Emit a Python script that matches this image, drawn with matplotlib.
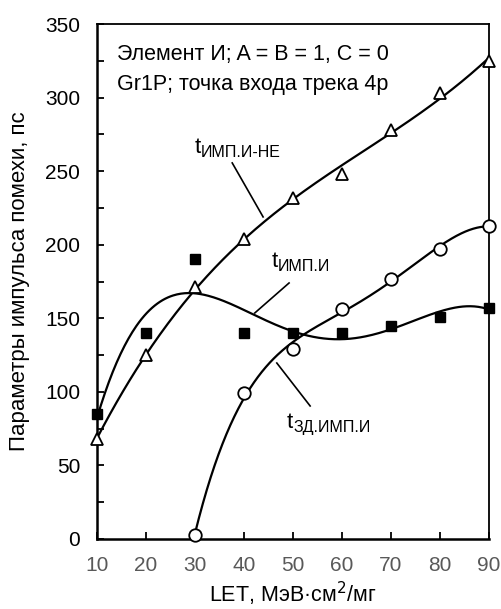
import numpy as np
import matplotlib.pyplot as plt
from matplotlib.ticker import MultipleLocator

plt.rcParams['font.family'] = ['Liberation Sans', 'DejaVu Sans']

# LET values and measured pulse parameters (ps)
let = [10, 20, 30, 40, 50, 60, 70, 80, 90]
t_imp_and_not = [68, 125, 171, 204, 232, 248, 278, 303, 325]
t_imp_and = [85, 140, 190, 140, 140, 140, 145, 151, 157]
let_delay = [30, 40, 50, 60, 70, 80, 90]
t_delay = [3, 99, 129, 156, 177, 197, 213]

fig = plt.figure(figsize=(5.01, 6.09), dpi=100)
ax = fig.add_axes([0.1936, 0.115, 0.7824, 0.8455])


def trend(x, y, deg, n=300):
    # polynomial trendline over the data range
    c = np.polyfit(x, y, deg)
    xs = np.linspace(min(x), max(x), n)
    return xs, np.polyval(c, xs)


xs, ys = trend(let, t_imp_and_not, 3)
ax.plot(xs, ys, color='black', lw=1.6)
xs, ys = trend(let, t_imp_and, 4)
ax.plot(xs, ys, color='black', lw=1.6)
xs, ys = trend(let_delay, t_delay, 4)
ax.plot(xs, ys, color='black', lw=1.6)

ax.plot(let, t_imp_and_not, ls='none', marker='^', ms=8, mfc='white',
        mec='black', mew=1.3, clip_on=False, zorder=3)
ax.plot(let, t_imp_and, ls='none', marker='s', ms=7, mfc='black',
        mec='black', clip_on=False, zorder=3)
ax.plot(let_delay, t_delay, ls='none', marker='o', ms=9, mfc='white',
        mec='black', mew=1.3, clip_on=False, zorder=3)

ax.set_xlim(10, 90)
ax.set_ylim(0, 350)
ax.xaxis.set_major_locator(MultipleLocator(10))
ax.yaxis.set_major_locator(MultipleLocator(50))
ax.yaxis.set_minor_locator(MultipleLocator(25))
ax.tick_params(axis='both', which='both', direction='in', length=5, width=1.3)
ax.tick_params(axis='x', labelsize=15, labelcolor='#595959', pad=12)
ax.tick_params(axis='y', labelsize=15, pad=12)
for side in ['left', 'bottom']:
    ax.spines[side].set_linewidth(1.8)
for side in ['top', 'right']:
    ax.spines[side].set_linewidth(1.3)

ax.set_xlabel('LET, МэВ·см$^2$/мг', fontsize=15.5, labelpad=4)
ax.set_ylabel('Параметры импульса помехи, пс', fontsize=16, labelpad=11)

ax.text(14.0, 325.6, 'Элемент И; A = B = 1, C = 0', fontsize=15.5)
ax.text(14.0, 305.3, 'Gr1P; точка входа трека 4р', fontsize=15.5)

# curve labels with leader lines
labels = [
    (30.0, 262.4, 'ИМП.И-НЕ', (37.6, 255.6), (43.9, 218.9)),
    (45.7, 185.0, 'ИМП.И', (49.2, 174.0), (42.2, 153.6)),
    (48.8, 75.5, 'ЗД.ИМП.И', (53.5, 90.4), (46.7, 119.6)),
]
for x, y, sub, p0, p1 in labels:
    ax.text(x, y, 't', fontsize=16)
    ax.annotate(sub, xy=(x, y), xytext=(4.3, -3), textcoords='offset points',
                fontsize=11.5)
    ax.plot([p0[0], p1[0]], [p0[1], p1[1]], color='black', lw=1.2)

fig.savefig('out.png', dpi=100)
